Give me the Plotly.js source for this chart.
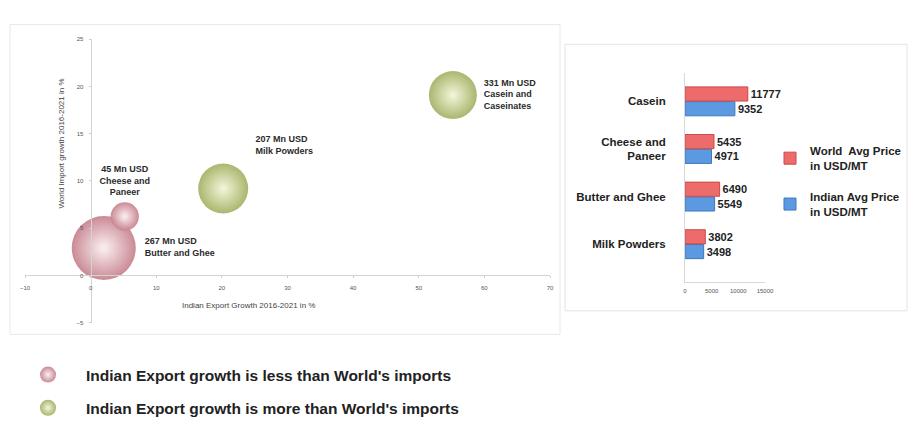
<!DOCTYPE html>
<html>
<head>
<meta charset="utf-8">
<script src="https://cdn.plot.ly/plotly-3.0.1.min.js"></script>
<style>
  html, body { margin: 0; padding: 0; background: #ffffff; }
  #chart { width: 909px; height: 425px; }
</style>
</head>
<body>
<div id="chart"></div>
<script>
// ---- Dairy export bubbles: growth 2016-2021 ----
const products      = ['Butter and Ghee', 'Cheese and Paneer', 'Milk Powders', 'Casein and Caseinates'];
const exportValue   = ['267 Mn USD', '45 Mn USD', '207 Mn USD', '331 Mn USD'];
const indianGrowth  = [2.0, 5.2, 20.2, 55.2];   // Indian export growth, %
const worldGrowth   = [2.9, 6.25, 9.2, 19.1];   // World import growth, %
const bubbleWeight  = [41, 8, 25, 23];

// ---- Average price comparison (USD/MT) ----
const priceCategories = ['Casein', 'Cheese and<br>Paneer', 'Butter and Ghee', 'Milk Powders'];
const worldPrice      = [11777, 5435, 6490, 3802];
const indianPrice     = [9352, 4971, 5549, 3498];

const FONT = 'Liberation Sans, Arial, sans-serif';
const W = 909, H = 425;
const px = v => v / W;
const py = v => (H - v) / H;

const labelPos = {
  'Butter and Ghee': 'middle right',
  'Cheese and Paneer': 'top center',
  'Milk Powders': 'top right',
  'Casein and Caseinates': 'middle right'
};

// long product names wrap after "and"
function bubbleLabel(i) {
  const name = products[i].length > 16 ? products[i].replace(' and ', ' and<br>') : products[i];
  return exportValue[i] + '<br>' + name;
}

function bubbleGroup(filter, name, edge, centre) {
  const idx = products.map((_, i) => i).filter(filter);
  return {
    type: 'scatter', mode: 'markers+text',
    x: idx.map(i => indianGrowth[i]),
    y: idx.map(i => worldGrowth[i]),
    text: idx.map(bubbleLabel),
    textposition: idx.map(i => labelPos[products[i]]),
    textfont: { family: FONT, size: 9, color: '#2b2b2b', weight: 'bold' },
    marker: {
      size: idx.map(i => bubbleWeight[i]),
      sizemode: 'area', sizeref: 0.02,
      color: edge, opacity: 0.95,
      gradient: { type: 'radial', color: centre },
      line: { width: 0 }
    },
    name: name, legend: 'legend2', legendgroup: name,
    xaxis: 'x', yaxis: 'y', cliponaxis: false, hoverinfo: 'skip'
  };
}

const barText = { family: FONT, size: 11, color: '#222222', weight: 'bold' };

const traces = [
  bubbleGroup(i => indianGrowth[i] < worldGrowth[i],
    "Indian Export growth is less than World's imports", '#c7848f', '#fbf0f1'),
  bubbleGroup(i => indianGrowth[i] >= worldGrowth[i],
    "Indian Export growth is more than World's imports", '#a6b266', '#f3f6d8'),
  {
    type: 'bar', orientation: 'h',
    y: priceCategories, x: indianPrice,
    name: 'Indian Avg Price<br>in USD/MT', legendrank: 2, legendgroup: 'indian',
    marker: { color: '#5b9ae0', line: { color: '#3f78bd', width: 1 } },
    text: indianPrice.map(String), textposition: 'outside', textfont: barText,
    xaxis: 'x2', yaxis: 'y2', cliponaxis: false, hoverinfo: 'skip'
  },
  {
    type: 'bar', orientation: 'h',
    y: priceCategories, x: worldPrice,
    name: 'World  Avg Price<br>in USD/MT', legendrank: 1, legendgroup: 'world',
    marker: { color: '#ee6b6b', line: { color: '#c94b4b', width: 1 } },
    text: worldPrice.map(String), textposition: 'outside', textfont: barText,
    xaxis: 'x2', yaxis: 'y2', cliponaxis: false, hoverinfo: 'skip'
  }
];

const tickFont = { family: FONT, size: 6, color: '#555555' };

const layout = {
  width: W, height: H,
  margin: { l: 0, r: 0, t: 0, b: 0 },
  paper_bgcolor: '#ffffff', plot_bgcolor: 'rgba(0,0,0,0)',
  font: { family: FONT },
  showlegend: true,
  barmode: 'group', bargap: 0.38, bargroupgap: 0.04,
  xaxis: {
    domain: [px(25), px(550)], range: [-10, 70], dtick: 10,
    anchor: 'free', position: py(280),
    showline: true, linecolor: '#d4d4d4', linewidth: 1,
    showgrid: false, zeroline: false,
    ticks: 'outside', ticklen: 2, tickcolor: '#cccccc',
    ticklabelstandoff: 4,
    tickfont: tickFont
  },
  yaxis: {
    domain: [py(328), py(40)], range: [-5, 25], dtick: 5,
    anchor: 'free', position: px(90.6),
    showline: true, linecolor: '#d4d4d4', linewidth: 1,
    showgrid: false, zeroline: false,
    ticks: 'outside', ticklen: 2, tickcolor: '#cccccc',
    ticklabelstandoff: 4,
    tickfont: tickFont
  },
  xaxis2: {
    domain: [px(685), px(765)], range: [0, 15000],
    tickvals: [0, 5000, 10000, 15000], ticktext: ['0', '5000', '10000', '15000'],
    anchor: 'y2',
    showline: true, linecolor: '#d9d9d9',
    showgrid: false, zeroline: false,
    ticklabelstandoff: 3,
    tickfont: tickFont
  },
  yaxis2: {
    domain: [py(287), py(74)], anchor: 'x2',
    type: 'category', categoryorder: 'array',
    categoryarray: priceCategories.slice().reverse(),
    range: [-0.8, 3.6],
    showline: true, linecolor: '#d9d9d9',
    showgrid: false, zeroline: false, ticks: '',
    ticklabelstandoff: 16,
    tickfont: { family: FONT, size: 11.5, color: '#222222', weight: 'bold' }
  },
  legend: {
    x: px(770), y: py(139), xanchor: 'left', yanchor: 'top',
    bgcolor: 'rgba(0,0,0,0)', traceorder: 'grouped',
    itemwidth: 30, tracegroupgap: 13,
    font: { family: FONT, size: 11.5, color: '#222222', weight: 'bold' }
  },
  legend2: {
    x: px(10), y: py(364), xanchor: 'left', yanchor: 'top',
    bgcolor: 'rgba(0,0,0,0)', itemwidth: 66, tracegroupgap: 10,
    traceorder: 'grouped',
    font: { family: FONT, size: 15.5, color: '#222222', weight: 'bold' }
  },
  shapes: [
    { type: 'rect', xref: 'paper', yref: 'paper',
      x0: px(10), x1: px(560), y0: py(340), y1: py(25),
      line: { color: '#e8e8e8', width: 1 } },
    { type: 'rect', xref: 'paper', yref: 'paper',
      x0: px(565), x1: px(907), y0: py(316), y1: py(45),
      line: { color: '#e3e3e3', width: 1 } }
  ],
  annotations: [
    { text: 'Indian Export Growth 2016-2021 in %', xref: 'paper', yref: 'paper',
      x: px(248), y: py(311), xanchor: 'center', yanchor: 'middle', showarrow: false,
      font: { family: FONT, size: 8, color: '#444444' } },
    { text: 'World Import growth 2016-2021 in %', xref: 'paper', yref: 'paper',
      x: px(62), y: py(146), xanchor: 'center', yanchor: 'middle',
      showarrow: false, textangle: -90,
      font: { family: FONT, size: 8, color: '#444444' } }
  ]
};

Plotly.newPlot('chart', traces, layout, { staticPlot: true, displayModeBar: false });
</script>
</body>
</html>
